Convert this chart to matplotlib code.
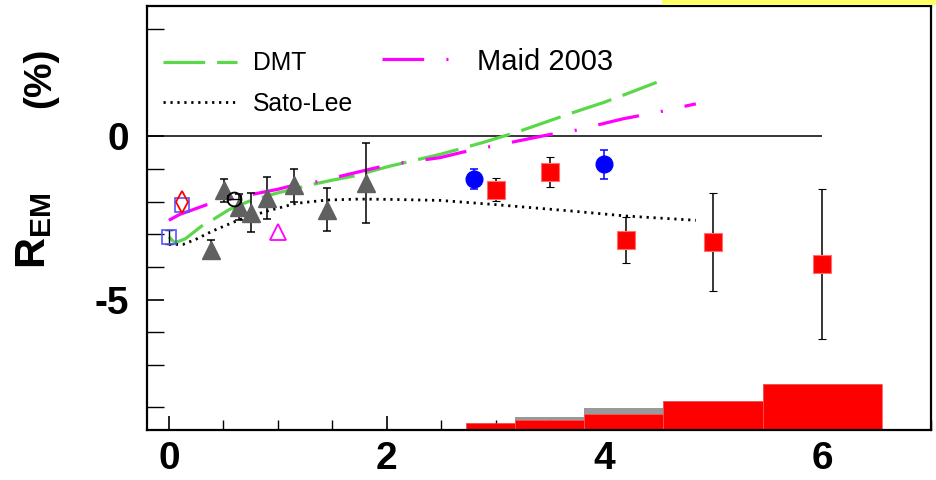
import matplotlib
matplotlib.use("Agg")
import matplotlib.pyplot as plt
from matplotlib.lines import Line2D
from matplotlib.patches import Rectangle
import numpy as np

plt.rcParams["font.family"] = ["Liberation Sans", "DejaVu Sans"]
plt.rcParams["mathtext.fontset"] = "custom"
plt.rcParams["mathtext.bf"] = "Liberation Sans:bold"
plt.rcParams["mathtext.rm"] = "Liberation Sans"
plt.rcParams["lines.scale_dashes"] = False

# model curves
dmt_q2 = [0.0, 0.055, 0.15, 0.3, 0.4, 0.55, 0.74, 0.84, 1.0, 1.2, 1.32, 1.5, 1.69, 2.03,
          2.49, 2.88, 3.22, 3.71, 4.0, 4.2, 4.48]
dmt_rem = [-3.08, -3.26, -3.14, -2.75, -2.56, -2.25, -1.98, -1.88, -1.73, -1.57, -1.47, -1.34,
           -1.22, -0.91, -0.55, -0.19, 0.16, 0.73, 1.05, 1.3, 1.66]

maid_q2 = [0.0, 0.1, 0.35, 0.56, 0.76, 1.0, 1.14, 1.32, 1.6, 2.03, 2.49, 2.7, 3.13, 3.5,
           3.7, 4.17, 4.5, 4.84]
maid_rem = [-2.57, -2.39, -2.09, -1.93, -1.78, -1.62, -1.5, -1.42, -1.2, -0.86, -0.65, -0.48,
            -0.19, 0.06, 0.16, 0.54, 0.75, 1.0]

sato_q2 = [0.0, 0.13, 0.25, 0.4, 0.65, 0.9, 1.17, 1.45, 1.75, 2.03, 2.49, 3.0, 3.71, 4.2, 4.84]
sato_rem = [-3.31, -3.31, -3.15, -2.9, -2.55, -2.29, -2.05, -1.95, -1.92, -1.93, -1.96, -2.09,
            -2.29, -2.44, -2.57]

# measurements
red_q2 = [3.0, 3.5, 4.2, 5.0, 6.0]
red_rem = [-1.63, -1.08, -3.17, -3.24, -3.9]
red_err = [0.35, 0.46, 0.7, 1.5, 2.3]

blue_q2 = [2.8, 4.0]
blue_rem = [-1.3, -0.85]
blue_err = [0.3, 0.45]

gray_q2 = [0.385, 0.51, 0.645, 0.75, 0.9, 1.15, 1.45, 1.81]
gray_rem = [-3.47, -1.65, -2.16, -2.34, -1.88, -1.5, -2.24, -1.42]
gray_err = [0.3, 0.35, 0.4, 0.6, 0.65, 0.5, 0.65, 1.22]

osq_q2 = [0.0, 0.125]
osq_rem = [-3.08, -2.09]
osq_err_q2 = [0.0]
osq_err_rem = [-3.08]
osq_err = [0.22]

diamond_q2 = [0.117]
diamond_rem = [-2.01]

ocirc_q2 = [0.6]
ocirc_rem = [-1.93]
ocirc_xerr = [0.06]

mtri_q2 = [1.0]
mtri_rem = [-2.93]

# systematic-error bands along the bottom
band_edges = [2.73, 3.18, 3.81, 4.54, 5.46, 6.55, 7.0]
band_red = [0.22, 0.32, 0.48, 0.88, 1.4, 0.04]
band_gray = [0.22, 0.39, 0.67, 0.88, 1.4, 0.04]
BAND_BASE = -9.0

ZERO_END = 6.0

fig = plt.figure(figsize=(9.37, 4.8), dpi=100)
fig.patches.append(Rectangle((0.7065, 0.9895), 0.3, 0.02, transform=fig.transFigure,
                             facecolor="#ffff66", edgecolor="none", zorder=0))
ax = fig.add_axes([0.157, 0.1042, 0.8366, 0.8833])
ax.set_xlim(-0.2, 7.0)
ax.set_ylim(-9.0, 4.0)

widths = np.diff(band_edges)
ax.bar(band_edges[:-1], band_gray, width=widths, bottom=BAND_BASE, align="edge",
       color="#999999", linewidth=0, zorder=1)
ax.bar(band_edges[:-1], band_red, width=widths, bottom=BAND_BASE, align="edge",
       color="#ff0000", edgecolor="#ff6666", linewidth=0.4, zorder=2)

ax.hlines(0, -0.2, ZERO_END, color="black", linewidth=1.1, zorder=2)

green = "#5ad84a"
dmt_style = dict(color=green, linewidth=2.3, dashes=(30, 8.6))
sato_style = dict(color="black", linewidth=2.0, dashes=(1.6, 3.4))
maid_style = dict(color="#ff00ff", linewidth=2.3, dashes=(30, 16, 1.5, 16))
ax.plot(dmt_q2, dmt_rem, zorder=3, **dmt_style)
ax.plot(sato_q2, sato_rem, zorder=3, **sato_style)
ax.plot(maid_q2, maid_rem, zorder=3, **maid_style)

ax.errorbar(gray_q2, gray_rem, yerr=gray_err, fmt="^", color="#606060", ms=13,
            ecolor="black", elinewidth=1.1, capsize=3, capthick=1.1, zorder=4)
ax.errorbar(red_q2, red_rem, yerr=red_err, fmt="s", mfc="#ff0000", mec="#ff7070", mew=0.8,
            ms=13, ecolor="black", elinewidth=1.1, capsize=3, capthick=1.1, zorder=5)
ax.errorbar(blue_q2, blue_rem, yerr=blue_err, fmt="o", color="#0000ff", ms=12,
            ecolor="#0000ff", elinewidth=1.1, capsize=3, capthick=1.1, zorder=5)
ax.errorbar(osq_err_q2, osq_err_rem, yerr=osq_err, fmt="none", ecolor="black",
            elinewidth=1.0, capsize=3, capthick=1.0, zorder=5)
ax.plot(osq_q2, osq_rem, "s", mfc="none", mec="#5555ff", mew=1.2, ms=10, zorder=5)
ax.plot(diamond_q2, diamond_rem, "d", mfc="none", mec="#ff0000", mew=1.3, ms=11, zorder=6)
ax.errorbar(ocirc_q2, ocirc_rem, xerr=ocirc_xerr, fmt="o", mfc="none", mec="black", mew=1.3,
            ms=10, ecolor="black", elinewidth=1.0, capsize=3, zorder=6)
ax.plot(mtri_q2, mtri_rem, "^", mfc="none", mec="#ff00ff", mew=1.3, ms=12, zorder=6)

# legend: the two left entries and the Maid entry use different text sizes
leg1 = ax.legend([Line2D([], [], **dmt_style), Line2D([], [], **sato_style)],
                 ["DMT", "Sato-Lee"], loc="upper left", bbox_to_anchor=(0.02, 0.893),
                 frameon=False, fontsize=17.8, handlelength=3.02, handletextpad=0.62,
                 labelspacing=0.67, borderaxespad=0.0, borderpad=0.0)
ax.add_artist(leg1)
ax.legend([Line2D([], [], **maid_style)], ["Maid 2003"], loc="upper left",
          bbox_to_anchor=(0.2994, 0.902), frameon=False, fontsize=21, handlelength=2.28,
          handletextpad=0.98, borderaxespad=0.0, borderpad=0.0)

ax.set_xticks([0, 2, 4, 6])
ax.set_xticks(np.arange(0, 7.01, 0.5), minor=True)
ax.set_yticks([0, -5])
ax.set_yticks([-8.3, -7, -6, -4, -3, -2, -1, 3.3], minor=True)
ax.tick_params(axis="both", which="both", direction="in", top=False, right=False)
ax.tick_params(axis="x", which="major", length=10, width=1.2, pad=8)
ax.tick_params(axis="x", which="minor", length=7, width=1.0)
ax.tick_params(axis="y", which="major", length=12, width=1.2, pad=13)
ax.tick_params(axis="y", which="minor", length=12, width=1.0)
ax.set_yticklabels(["0", "-5"])
for lab in ax.get_xticklabels() + ax.get_yticklabels():
    lab.set_fontsize(28)
    lab.set_fontweight("bold")
for side in ax.spines.values():
    side.set_linewidth(1.6)

fig.text(0.036, 0.52, r"$\mathbf{R_{EM}}$", rotation=90, fontsize=31,
         ha="center", va="center")
fig.text(0.043, 0.838, "(%)", rotation=90, fontsize=28, fontweight="bold",
         ha="center", va="center")

fig.savefig("out.png", dpi=100)
